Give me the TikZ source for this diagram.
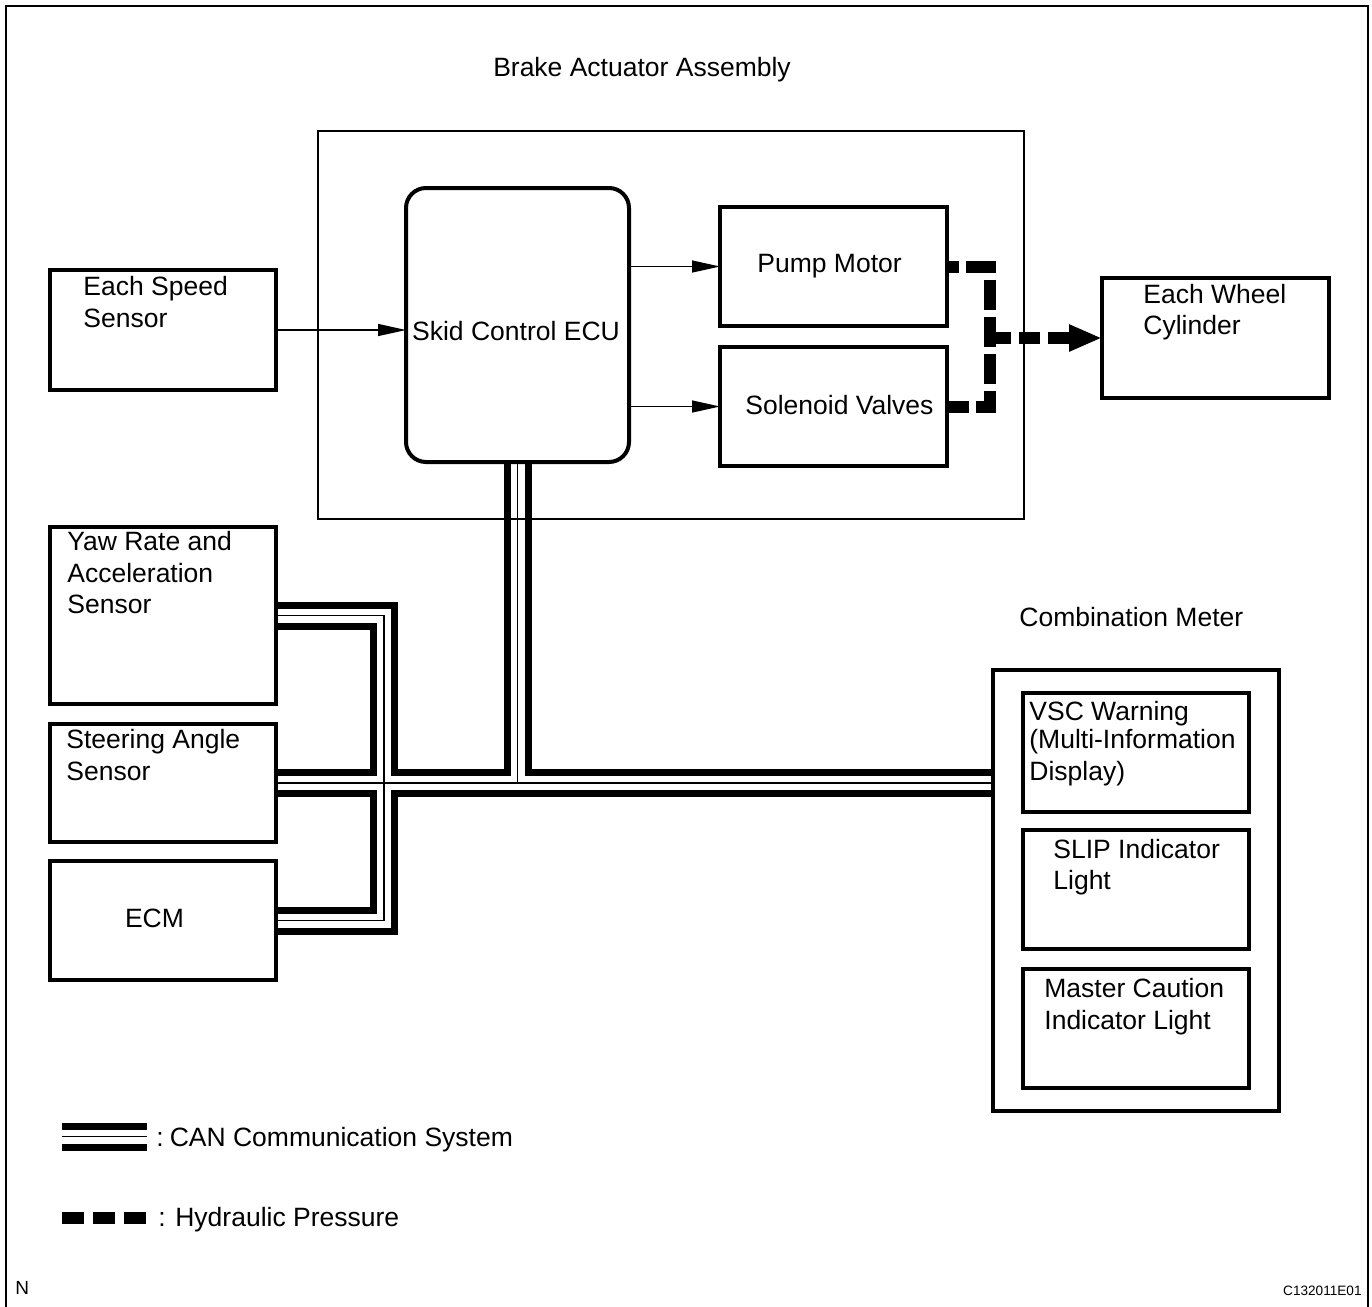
\documentclass[tikz,border=0pt]{standalone}
\usepackage{fontspec}
\setmainfont{Liberation Sans}
\usetikzlibrary{arrows.meta,backgrounds}
\begin{document}
\begin{tikzpicture}[x=0.5pt,y=-0.5pt,
  box/.style={draw, line width=1.6pt, inner sep=0pt, outer sep=0pt},
  txt/.style={anchor=base west, inner sep=0pt, font=\fontsize{13.25pt}{16pt}\selectfont},
  sig/.style={line width=0.65pt, -{Triangle[length=14pt,width=6pt]}},
  hyd/.style={line width=6pt, line cap=butt, line join=miter, dash pattern=on 15pt off 3.5pt, dash phase=9pt}]
\useasboundingbox (0,0) rectangle (1372,1307);
% frame
\draw[line width=1.15pt] (6,1307) -- (6,6) -- (1368,6) -- (1368,1307);

% boxes
\node[box, minimum width=113pt, minimum height=60pt] (speed) at (163,330) {};
\node[box, minimum width=113pt, minimum height=88.5pt] (yaw) at (163,615.5) {};
\node[box, minimum width=113pt, minimum height=59pt] (steer) at (163,783) {};
\node[box, minimum width=113pt, minimum height=59.5pt] (ecm) at (163,920.5) {};
\node[box, line width=1.4pt, minimum width=353pt, minimum height=194pt] (act) at (671,325) {};
\node[box, line width=2pt, rounded corners=10pt, minimum width=111.5pt, minimum height=137pt] (ecu) at (517.5,325) {};
\node[box, minimum width=113.5pt, minimum height=59.5pt] (pump) at (833.5,266.5) {};
\node[box, minimum width=113.5pt, minimum height=59.5pt] (sol) at (833.5,406.5) {};
\node[box, minimum width=113.5pt, minimum height=60pt] (wheel) at (1215.5,338) {};
\node[box, minimum width=143pt, minimum height=220.5pt] (meter) at (1136,890.5) {};
\node[box, minimum width=113pt, minimum height=59.5pt] (vsc) at (1136,752.5) {};
\node[box, minimum width=113pt, minimum height=59.5pt] (slip) at (1136,889.5) {};
\node[box, minimum width=113pt, minimum height=59.5pt] (master) at (1136,1028.5) {};

% texts
\node[txt, anchor=base] (tact) at (642,76) {Brake Actuator Assembly};
\node[txt] (tsp1) at (83,295) {Each Speed};
\node[txt] (tsp2) at (83,327) {Sensor};
\node[txt, anchor=base] (tecu) at (516,340) {Skid Control ECU};
\node[txt] (tpump) at (757,272) {Pump Motor};
\node[txt] (tsol) at (745,414) {Solenoid Valves};
\node[txt] (twh1) at (1143,303) {Each Wheel};
\node[txt] (twh2) at (1143,334) {Cylinder};
\node[txt] (tyaw1) at (67,550) {Yaw Rate and};
\node[txt] (tyaw2) at (67,582) {Acceleration};
\node[txt] (tyaw3) at (67,613) {Sensor};
\node[txt] (tmet) at (1019,626) {Combination Meter};
\node[txt] (tst1) at (66,748) {Steering Angle};
\node[txt] (tst2) at (66,780) {Sensor};
\node[txt, anchor=base] (tecm) at (154.5,927) {ECM};
\node[txt] (tvsc1) at (1029,720) {VSC Warning};
\node[txt] (tvsc2) at (1029,748) {(Multi-Information};
\node[txt] (tvsc3) at (1029,780) {Display)};
\node[txt] (tslip1) at (1053,858) {SLIP Indicator};
\node[txt] (tslip2) at (1053,889) {Light};
\node[txt] (tmc1) at (1044,997) {Master Caution};
\node[txt] (tmc2) at (1044,1029) {Indicator Light};
\node[txt] (tlcan) at (156,1146) {:\hspace{3pt}CAN Communication System};
\node[txt] (tlhyd) at (158,1226) {:\hspace{4.8pt}Hydraulic Pressure};
\node[anchor=base west, inner sep=0pt, font=\fontsize{9.5pt}{11pt}\selectfont] (tn) at (15,1294) {N};
\node[anchor=base east, inner sep=0pt, font=\fontsize{6.8pt}{8pt}\selectfont] (tcode) at (1362,1295) {C132011E01};

% signal arrows
\draw[sig] (speed.east) -- (speed.east -| ecu.west);
\draw[sig] (pump.west -| ecu.east) -- (pump.west);
\draw[sig] (sol.west -| ecu.east) -- (sol.west);

% hydraulic
\coordinate (hj) at (990,338);
\draw[hyd] (pump.east) -| (hj) |- (sol.east);
\draw[hyd, dash pattern=on 10.5pt off 4pt, dash phase=0pt, -{Triangle[length=16.5pt,width=12.5pt]}] (hj) -- (hj -| wheel.west);

% CAN bus
\coordinate (bj) at (384,783);
\coordinate (canA) at (62,1136.5);
\coordinate (canB) at (147,1136.5);
\begin{pgfonlayer}{background}
\foreach \w/\c in {14pt/black, 7pt/white, 0.9pt/black} {
  \draw[line width=\w, draw=\c, line cap=butt, line join=miter]
    (ecu.south) -- (ecu.south |- steer.east)
    (steer.east) -- (steer.east -| meter.west)
    (yaw.east) -| (bj) |- (ecm.east)
    (canA) -- (canB);
}
\end{pgfonlayer}

% hydraulic legend
\coordinate (hydA) at (62,1218);
\coordinate (hydB) at (147,1218);
\draw[line width=6pt, line cap=butt, dash pattern=on 10.75pt off 4.75pt] (hydA) -- (hydB);
\end{tikzpicture}
\end{document}
